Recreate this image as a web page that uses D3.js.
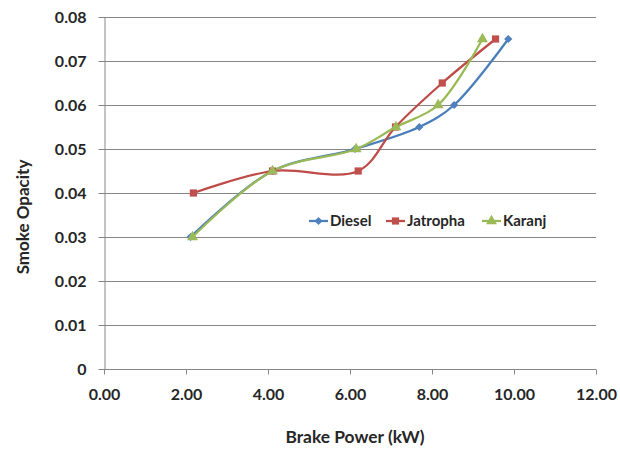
<!DOCTYPE html>
<html lang="en">
<head>
    <meta charset="UTF-8">
    <title>Smoke Opacity vs Brake Power</title>
    <style>
        body {
            margin: 0;
            padding: 0;
            background: #fff;
            font-family: Lato, "Open Sans", Arial, sans-serif;
        }
        .axis text {
            font-family: Lato, sans-serif;
            font-weight: bold;
            font-size: 16px;
            fill: #262626;
        }
        .axis path, .axis line {
            stroke: #868686;
        }
    </style>
</head>
<body>
    <div id="chart"></div>

    <script src="https://d3js.org/d3.v7.min.js"></script>
    <script>
        // values
        var seriesNames = ["Diesel", "Jatropha", "Karanj"];
        var dieselPower = [2.11, 4.11, 6.12, 7.69, 8.54, 9.86];
        var dieselOpacity = [0.03, 0.045, 0.05, 0.055, 0.06, 0.075];
        var jatrophaPower = [2.18, 4.11, 6.20, 7.11, 8.25, 9.55];
        var jatrophaOpacity = [0.04, 0.045, 0.045, 0.055, 0.065, 0.075];
        var karanjPower = [2.16, 4.11, 6.15, 7.12, 8.15, 9.23];
        var karanjOpacity = [0.03, 0.045, 0.05, 0.055, 0.06, 0.075];
        var xTicks = [0, 2, 4, 6, 8, 10, 12];
        var yTicks = [0, 0.01, 0.02, 0.03, 0.04, 0.05, 0.06, 0.07, 0.08];

        var lineColors = ["#4A7EBB", "#BE4B48", "#98B954"];
        var markerColors = ["#4F81BD", "#C0504D", "#9BBB59"];
        // diamond is a square turned 45 degrees, like Excel's marker
        var markerShapes = [d3.symbolSquare, d3.symbolSquare, d3.symbolTriangle];
        var markerSizes = [34, 52, 52];
        var markerRotate = [45, 0, 0];

        var series = [
            { name: seriesNames[0], x: dieselPower, y: dieselOpacity },
            { name: seriesNames[1], x: jatrophaPower, y: jatrophaOpacity },
            { name: seriesNames[2], x: karanjPower, y: karanjOpacity }
        ].map(function(s) {
            return { name: s.name, points: s.x.map((v, i) => [v, s.y[i]]) };
        });

        var svgWidth = 620, svgHeight = 454;
        var margin = { top: 17, right: 24, bottom: 85, left: 104 };
        var width = svgWidth - margin.left - margin.right;
        var height = svgHeight - margin.top - margin.bottom;

        var svg = d3.select("#chart")
            .append("svg")
            .attr("width", svgWidth)
            .attr("height", svgHeight);

        var g = svg.append("g")
            .attr("transform", "translate(" + margin.left + "," + margin.top + ")");

        var x = d3.scaleLinear().domain([0, 12]).range([0, width]);
        var y = d3.scaleLinear().domain([0, 0.08]).range([height, 0]);

        // horizontal gridlines
        g.selectAll(".grid")
            .data(yTicks.slice(1))
            .enter().append("line")
            .attr("class", "grid")
            .attr("x1", 0)
            .attr("x2", width)
            .attr("y1", d => y(d) + 0.5)
            .attr("y2", d => y(d) + 0.5)
            .attr("stroke", "#868686")
            .attr("stroke-width", 1);

        // y axis
        var yAxis = g.append("g")
            .attr("class", "axis")
            .attr("transform", "translate(0.5,0)")
            .call(d3.axisLeft(y).tickValues(yTicks).tickSize(6).tickSizeOuter(0).tickPadding(12)
                .tickFormat(d => d === 0 ? "0" : d3.format(".2f")(d)));
        yAxis.selectAll("text").attr("dy", "0.35em");

        // x axis
        var xAxis = g.append("g")
            .attr("class", "axis")
            .attr("transform", "translate(0," + (height + 0.5) + ")")
            .call(d3.axisBottom(x).tickValues(xTicks).tickSize(5).tickSizeOuter(0).tickPadding(14)
                .tickFormat(d3.format(".2f")));
        xAxis.select(".domain").attr("d", "M0,0H" + width);

        // smoothed series lines
        var line = d3.line()
            .x(d => x(d[0]))
            .y(d => y(d[1]))
            .curve(d3.curveCatmullRom.alpha(0.5));

        series.forEach(function(s, i) {
            g.append("path")
                .datum(s.points)
                .attr("fill", "none")
                .attr("stroke", lineColors[i])
                .attr("stroke-width", 2.25)
                .attr("d", line);
        });

        series.forEach(function(s, i) {
            g.selectAll(".marker-" + i)
                .data(s.points)
                .enter().append("path")
                .attr("class", "marker-" + i)
                .attr("transform", d => "translate(" + x(d[0]) + "," + y(d[1]) + ") rotate(" + markerRotate[i] + ")")
                .attr("d", d3.symbol().type(markerShapes[i]).size(markerSizes[i]))
                .attr("fill", markerColors[i]);
        });

        // legend
        var legendX = [309, 386, 482];
        var legendY = 221;
        var legend = svg.append("g").attr("class", "legend");
        seriesNames.forEach(function(name, i) {
            var lg = legend.append("g").attr("transform", "translate(" + legendX[i] + "," + legendY + ")");
            lg.append("line")
                .attr("x1", 0).attr("x2", 19)
                .attr("stroke", lineColors[i])
                .attr("stroke-width", 2.25);
            lg.append("path")
                .attr("transform", "translate(9.5,0) rotate(" + markerRotate[i] + ")")
                .attr("d", d3.symbol().type(markerShapes[i]).size(markerSizes[i]))
                .attr("fill", markerColors[i]);
            lg.append("text")
                .attr("x", 21)
                .attr("dy", "0.35em")
                .attr("font-family", "Lato, sans-serif")
                .attr("font-weight", "bold")
                .attr("font-size", "15px")
                .attr("fill", "#262626")
                .text(name);
        });

        // axis titles
        svg.append("text")
            .attr("x", 355)
            .attr("y", 443)
            .attr("text-anchor", "middle")
            .attr("font-family", "Lato, sans-serif")
            .attr("font-weight", "bold")
            .attr("font-size", "17.4px")
            .attr("fill", "#262626")
            .text("Brake Power (kW)");

        svg.append("text")
            .attr("transform", "translate(29,217) rotate(-90)")
            .attr("text-anchor", "middle")
            .attr("font-family", "Lato, sans-serif")
            .attr("font-weight", "bold")
            .attr("font-size", "17px")
            .attr("fill", "#262626")
            .text("Smoke Opacity");
    </script>
</body>
</html>
